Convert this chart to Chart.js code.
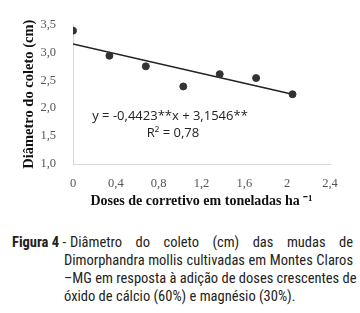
<!DOCTYPE html>
<html>
<head>
<meta charset="utf-8">
<script src="https://cdn.jsdelivr.net/npm/chart.js@4"></script>
<style>
  body { margin: 0; background: #fff; width: 360px; height: 313px; overflow: hidden; position: relative; }
  #wrap { position: absolute; left: 0; top: 0; width: 360px; height: 215px; }
  #caption { position: absolute; left: 12px; top: 234px; width: 341px; display: flex;
    font-family: "Liberation Sans Narrow", "Roboto Condensed", Roboto, sans-serif; font-size: 14.5px; line-height: 18px; color: #222; }
  #caption .lab { width: 52px; flex: none; white-space: nowrap; }
  #caption .lab b { font-weight: bold; }
  #caption .txt { width: 289px; }
  #caption .txt div { text-align: justify; text-align-last: justify; white-space: nowrap; }
  #caption .txt div.first { padding-left: 6px; }
  #caption .txt div.last { text-align-last: left; }
</style>
</head>
<body>
<div id="wrap"><canvas id="chart"></canvas></div>
<div id="caption">
  <div class="lab"><b>Figura 4</b> -</div>
  <div class="txt">
    <div class="first">Diâmetro do coleto (cm) das mudas de</div>
    <div>Dimorphandra mollis cultivadas em Montes Claros</div>
    <div>–MG em resposta à adição de doses crescentes de</div>
    <div class="last">óxido de cálcio (60%) e magnésio (30%).</div>
  </div>
</div>
<script>
const doses = [0, 0.34, 0.68, 1.03, 1.37, 1.71, 2.05];
const diametro = [3.39, 2.94, 2.75, 2.39, 2.61, 2.54, 2.25];
const trendX = [0, 2.05];
const trendY = [3.15, 2.25];
const xTicks = [0, 0.4, 0.8, 1.2, 1.6, 2, 2.4];
const yTicks = [1.0, 1.5, 2.0, 2.5, 3.0, 3.5];
const equation = "y = -0,4423**x + 3,1546**";
const r2Label = "R² = 0,78";

const fmt = (v, dec) => {
  const r = Math.round(v * 10) / 10;
  return (dec ? r.toFixed(1) : String(r)).replace(".", ",");
};

const eqPlugin = {
  id: "eq",
  afterDatasetsDraw(chart) {
    const ctx = chart.ctx;
    ctx.save();
    ctx.fillStyle = "#222";
    ctx.font = "13px 'Open Sans', sans-serif";
    ctx.textAlign = "center";
    ctx.textBaseline = "middle";
    ctx.fillText(equation, 170, 116);
    ctx.fillText(r2Label, 173, 133);
    ctx.restore();
  }
};

const ctx = document.getElementById("chart").getContext("2d");
new Chart(ctx, {
  type: "scatter",
  data: {
    datasets: [
      {
        label: "Diâmetro",
        data: doses.map((x, i) => ({ x: x, y: diametro[i] })),
        backgroundColor: "#333",
        borderColor: "#333",
        pointRadius: 3.5,
        pointHoverRadius: 3.5
      },
      {
        type: "line",
        label: "Tendência",
        data: trendX.map((x, i) => ({ x: x, y: trendY[i] })),
        borderColor: "#222",
        borderWidth: 1.5,
        pointRadius: 0,
        fill: false
      }
    ]
  },
  options: {
    responsive: true,
    maintainAspectRatio: false,
    animation: false,
    layout: { padding: { top: 12, right: 30, bottom: 1, left: 0 } },
    plugins: { legend: { display: false }, tooltip: { enabled: false } },
    scales: {
      x: {
        type: "linear",
        min: 0, max: 2.4,
        afterBuildTicks: s => { s.ticks = xTicks.map(v => ({ value: v })); },
        afterFit: s => { s.height = 50; },
        grid: { display: false, drawTicks: false },
        border: { display: true, color: "#d9d9d9", width: 1 },
        ticks: { padding: 12, color: "#555", font: { family: "'Liberation Serif', serif", size: 12.5 },
          callback: v => fmt(v, v !== 0 && v !== 2) },
        title: { display: true, text: "Doses de corretivo em toneladas ha ⁻¹", color: "#111",
          font: { family: "'Liberation Serif', serif", size: 14, weight: "bold" }, padding: { top: 0, bottom: 4 } }
      },
      y: {
        min: 1, max: 3.5,
        afterBuildTicks: s => { s.ticks = yTicks.map(v => ({ value: v })); },
        afterFit: s => { s.width = 73; },
        grid: { display: false, drawTicks: false },
        border: { display: true, color: "#d9d9d9", width: 1 },
        ticks: { padding: 17, color: "#555", font: { family: "'Liberation Serif', serif", size: 12.5 },
          callback: v => fmt(v, true) },
        title: { display: true, text: "Diâmetro do coleto (cm)", color: "#111",
          font: { family: "'Liberation Serif', serif", size: 14.5, weight: "bold" }, padding: { top: 21, bottom: 0 } }
      }
    }
  },
  plugins: [eqPlugin]
});
</script>
</body>
</html>
